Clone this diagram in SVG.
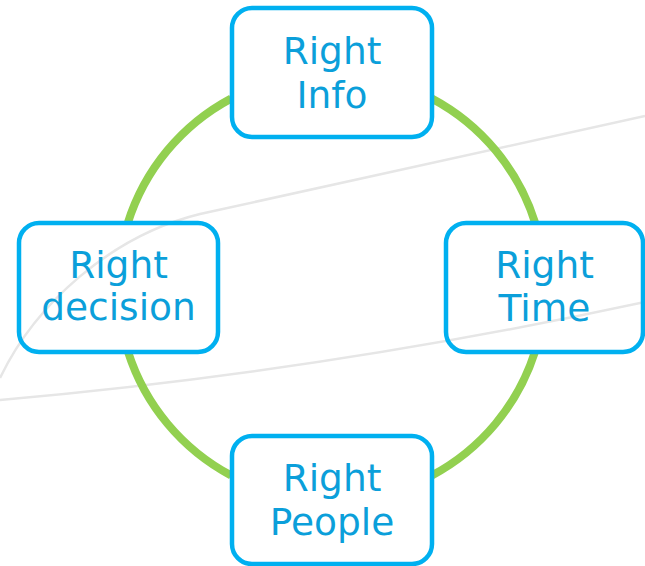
<svg xmlns="http://www.w3.org/2000/svg" width="645" height="566" viewBox="0 0 645 566">
  <style>
    .bg { fill: none; stroke: #E6E6E6; stroke-width: 2.5; }
    .arc { fill: none; stroke: #92D050; stroke-width: 8; }
    .box { fill: none; stroke: #00B0F0; stroke-width: 4.5; }
    .lbl { font-family: "DejaVu Sans", "Liberation Sans", sans-serif; font-size: 37.5px; fill: #0B9FDA; text-anchor: middle; }
  </style>
  <rect x="0" y="0" width="645" height="566" fill="#FFFFFF"/>
  <g id="background-lines">
    <path class="bg" d="M0,378 C35,305 110,236 200,214 L645,116"/>
    <path class="bg" d="M0,400 Q320,372 645,302"/>
  </g>
  <g id="connectors">
    <path class="arc" d="M432,98.6 A213.5,213.5 0 0 1 535.2,223"/>
    <path class="arc" d="M534.9,352 A213.5,213.5 0 0 1 432,475.4"/>
    <path class="arc" d="M231,475.4 A213.5,213.5 0 0 1 128.1,352"/>
    <path class="arc" d="M127.8,223 A213.5,213.5 0 0 1 231,98.6"/>
  </g>
  <g id="node-info">
    <rect class="box" x="232" y="8" width="200" height="129" rx="20" ry="20"/>
    <text class="lbl" x="332" y="64">Right</text>
    <text class="lbl" x="332" y="107.5">Info</text>
  </g>
  <g id="node-time">
    <rect class="box" x="446" y="223" width="197" height="129" rx="20" ry="20"/>
    <text class="lbl" x="544.5" y="278">Right</text>
    <text class="lbl" x="544.5" y="321">Time</text>
  </g>
  <g id="node-people">
    <rect class="box" x="232" y="436" width="200" height="128" rx="20" ry="20"/>
    <text class="lbl" x="332" y="491">Right</text>
    <text class="lbl" x="332" y="535">People</text>
  </g>
  <g id="node-decision">
    <rect class="box" x="19" y="223" width="199" height="129" rx="20" ry="20"/>
    <text class="lbl" x="118.5" y="278">Right</text>
    <text class="lbl" x="118.5" y="320">decision</text>
  </g>
</svg>
